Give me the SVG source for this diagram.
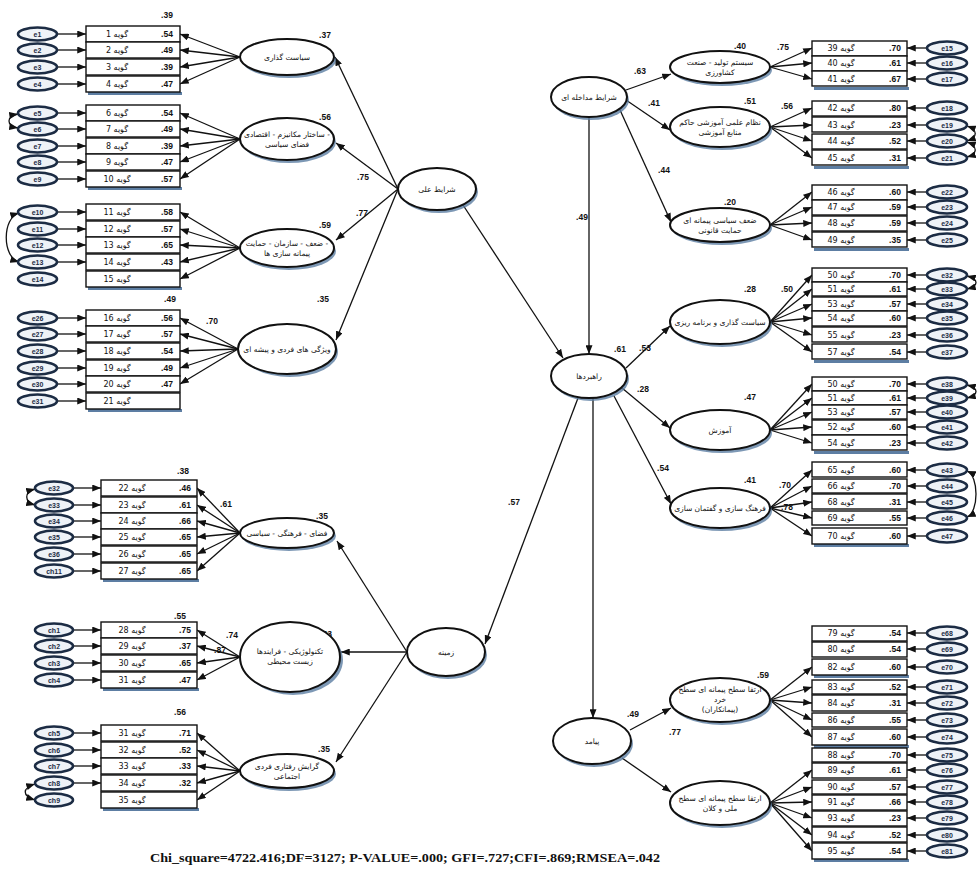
<svg xmlns="http://www.w3.org/2000/svg" width="977" height="889" viewBox="0 0 977 889">
<defs>
<marker id="a" viewBox="0 0 10 8" refX="10" refY="4" markerWidth="9" markerHeight="7" markerUnits="userSpaceOnUse" orient="auto-start-reverse"><path d="M0,0 L10,4 L0,8 z" fill="#111"/></marker>
<style>
.b{fill:#fff;stroke:#111;stroke-width:1.4}
.sh{fill:#5d7ea3}
.lt{fill:#fff;stroke:#111;stroke-width:2}
.ls{fill:#5d7ea3;opacity:.8}
.er{fill:#eef2f7;stroke:#1c2c44;stroke-width:2.6}
.tx{font-family:"DejaVu Sans","Noto Sans",sans-serif;font-size:7.5px;fill:#111;text-anchor:middle}
.it{font-family:"DejaVu Sans","Noto Sans",sans-serif;font-size:8px;fill:#111;text-anchor:middle}
.n{font-family:"Liberation Sans",Arial,sans-serif;font-size:8.5px;font-weight:bold;fill:#111;text-anchor:middle}
.et{font-family:"Liberation Sans",Arial,sans-serif;font-size:7px;font-weight:bold;fill:#1c2c44;text-anchor:middle}
#connectors line,#connectors path{stroke:#111;stroke-width:1.3;fill:none}
.ar{marker-end:url(#a)}
.cv{marker-start:url(#a);marker-end:url(#a)}
.cap{font-family:"Liberation Serif","Times New Roman",serif;font-size:13px;font-weight:bold;fill:#111}
</style>
</defs>
<rect width="977" height="889" fill="#fff"/>

<g id="connectors">
<line class="ar" x1="398" y1="189" x2="335" y2="57"/>
<line class="ar" x1="398" y1="189" x2="336" y2="143"/>
<line class="ar" x1="398" y1="189" x2="336" y2="240"/>
<line class="ar" x1="398" y1="189" x2="336" y2="340"/>
<line class="ar" x1="463" y1="205" x2="563" y2="358"/>
<line class="ar" x1="589" y1="117" x2="589" y2="354"/>
<line class="ar" x1="578" y1="398" x2="485" y2="644"/>
<line class="ar" x1="593" y1="398" x2="593" y2="718"/>
<line class="ar" x1="407" y1="652" x2="337" y2="541"/>
<line class="ar" x1="407" y1="652" x2="341" y2="652"/>
<line class="ar" x1="407" y1="652" x2="336" y2="762"/>
<line class="ar" x1="626" y1="90" x2="671" y2="74"/>
<line class="ar" x1="626" y1="100" x2="670" y2="130"/>
<line class="ar" x1="620" y1="110" x2="671" y2="222"/>
<line class="ar" x1="626" y1="368" x2="670" y2="326"/>
<line class="ar" x1="622" y1="388" x2="670" y2="428"/>
<line class="ar" x1="614" y1="396" x2="671" y2="504"/>
<line class="ar" x1="630" y1="730" x2="671" y2="708"/>
<line class="ar" x1="622" y1="758" x2="671" y2="792"/>
<line class="ar" x1="240" y1="57" x2="180" y2="34"/><line class="ar" x1="240" y1="57" x2="180" y2="50"/><line class="ar" x1="240" y1="57" x2="180" y2="67"/><line class="ar" x1="240" y1="57" x2="180" y2="84"/>
<line class="ar" x1="57" y1="34" x2="86" y2="34"/><line class="ar" x1="57" y1="50" x2="86" y2="50"/><line class="ar" x1="57" y1="67" x2="86" y2="67"/><line class="ar" x1="57" y1="84" x2="86" y2="84"/>
<line class="ar" x1="240" y1="139" x2="180" y2="113"/><line class="ar" x1="240" y1="139" x2="180" y2="129"/><line class="ar" x1="240" y1="139" x2="180" y2="146"/><line class="ar" x1="240" y1="139" x2="180" y2="162"/><line class="ar" x1="240" y1="139" x2="180" y2="179"/>
<line class="ar" x1="57" y1="113" x2="86" y2="113"/><line class="ar" x1="57" y1="129" x2="86" y2="129"/><line class="ar" x1="57" y1="146" x2="86" y2="146"/><line class="ar" x1="57" y1="162" x2="86" y2="162"/><line class="ar" x1="57" y1="179" x2="86" y2="179"/>
<path class="cv" d="M18,114 C6,116 6,126 18,128"/>
<line class="ar" x1="240" y1="248" x2="180" y2="212"/><line class="ar" x1="240" y1="248" x2="180" y2="229"/><line class="ar" x1="240" y1="248" x2="180" y2="245"/><line class="ar" x1="240" y1="248" x2="180" y2="262"/><line class="ar" x1="240" y1="248" x2="180" y2="279"/>
<line class="ar" x1="57" y1="212" x2="86" y2="212"/><line class="ar" x1="57" y1="229" x2="86" y2="229"/><line class="ar" x1="57" y1="245" x2="86" y2="245"/><line class="ar" x1="57" y1="262" x2="86" y2="262"/>
<path class="cv" d="M19,213 C2,218 2,257 19,262"/>
<line class="ar" x1="238" y1="349" x2="180" y2="318"/><line class="ar" x1="238" y1="349" x2="180" y2="334"/><line class="ar" x1="238" y1="349" x2="180" y2="351"/><line class="ar" x1="238" y1="349" x2="180" y2="368"/><line class="ar" x1="238" y1="349" x2="180" y2="384"/>
<line class="ar" x1="57" y1="318" x2="86" y2="318"/><line class="ar" x1="57" y1="334" x2="86" y2="334"/><line class="ar" x1="57" y1="351" x2="86" y2="351"/><line class="ar" x1="57" y1="368" x2="86" y2="368"/><line class="ar" x1="57" y1="384" x2="86" y2="384"/><line class="ar" x1="57" y1="401" x2="86" y2="401"/>
<line class="ar" x1="240" y1="533" x2="197" y2="488"/><line class="ar" x1="240" y1="533" x2="197" y2="505"/><line class="ar" x1="240" y1="533" x2="197" y2="521"/><line class="ar" x1="240" y1="533" x2="197" y2="537"/><line class="ar" x1="240" y1="533" x2="197" y2="554"/><line class="ar" x1="240" y1="533" x2="197" y2="571"/>
<line class="ar" x1="73" y1="488" x2="101" y2="488"/><line class="ar" x1="73" y1="505" x2="101" y2="505"/><line class="ar" x1="73" y1="521" x2="101" y2="521"/><line class="ar" x1="73" y1="537" x2="101" y2="537"/><line class="ar" x1="73" y1="554" x2="101" y2="554"/><line class="ar" x1="73" y1="571" x2="101" y2="571"/>
<path class="cv" d="M35,489 C24,492 24,502 35,505"/>
<line class="ar" x1="240" y1="657" x2="197" y2="630"/><line class="ar" x1="240" y1="657" x2="197" y2="646"/><line class="ar" x1="240" y1="657" x2="197" y2="663"/><line class="ar" x1="240" y1="657" x2="197" y2="680"/>
<line class="ar" x1="73" y1="630" x2="101" y2="630"/><line class="ar" x1="73" y1="646" x2="101" y2="646"/><line class="ar" x1="73" y1="663" x2="101" y2="663"/><line class="ar" x1="73" y1="680" x2="101" y2="680"/>
<line class="ar" x1="240" y1="771" x2="197" y2="733"/><line class="ar" x1="240" y1="771" x2="197" y2="750"/><line class="ar" x1="240" y1="771" x2="197" y2="766"/><line class="ar" x1="240" y1="771" x2="197" y2="783"/><line class="ar" x1="240" y1="771" x2="197" y2="800"/>
<line class="ar" x1="73" y1="733" x2="101" y2="733"/><line class="ar" x1="73" y1="750" x2="101" y2="750"/><line class="ar" x1="73" y1="766" x2="101" y2="766"/><line class="ar" x1="73" y1="783" x2="101" y2="783"/>
<path class="cv" d="M35,784 C22,788 22,796 35,800"/>
<line class="ar" x1="770" y1="67" x2="812" y2="48"/><line class="ar" x1="770" y1="67" x2="812" y2="63"/><line class="ar" x1="770" y1="67" x2="812" y2="79"/>
<line class="ar" x1="927" y1="48" x2="907" y2="48"/><line class="ar" x1="927" y1="63" x2="907" y2="63"/><line class="ar" x1="927" y1="79" x2="907" y2="79"/>
<line class="ar" x1="770" y1="127" x2="812" y2="108"/><line class="ar" x1="770" y1="127" x2="812" y2="125"/><line class="ar" x1="770" y1="127" x2="812" y2="141"/><line class="ar" x1="770" y1="127" x2="812" y2="158"/>
<line class="ar" x1="927" y1="108" x2="907" y2="108"/><line class="ar" x1="927" y1="125" x2="907" y2="125"/><line class="ar" x1="927" y1="141" x2="907" y2="141"/><line class="ar" x1="927" y1="158" x2="907" y2="158"/>
<path class="cv" d="M967,126 C978,130 978,137 967,141"/>
<path class="cv" d="M967,142 C978,146 978,154 967,157"/>
<line class="ar" x1="770" y1="225" x2="812" y2="192"/><line class="ar" x1="770" y1="225" x2="812" y2="207"/><line class="ar" x1="770" y1="225" x2="812" y2="223"/><line class="ar" x1="770" y1="225" x2="812" y2="240"/>
<line class="ar" x1="927" y1="192" x2="907" y2="192"/><line class="ar" x1="927" y1="207" x2="907" y2="207"/><line class="ar" x1="927" y1="223" x2="907" y2="223"/><line class="ar" x1="927" y1="240" x2="907" y2="240"/>
<line class="ar" x1="770" y1="322" x2="812" y2="275"/><line class="ar" x1="770" y1="322" x2="812" y2="289"/><line class="ar" x1="770" y1="322" x2="812" y2="304"/><line class="ar" x1="770" y1="322" x2="812" y2="318"/><line class="ar" x1="770" y1="322" x2="812" y2="335"/><line class="ar" x1="770" y1="322" x2="812" y2="352"/>
<line class="ar" x1="927" y1="275" x2="907" y2="275"/><line class="ar" x1="927" y1="289" x2="907" y2="289"/><line class="ar" x1="927" y1="304" x2="907" y2="304"/><line class="ar" x1="927" y1="318" x2="907" y2="318"/><line class="ar" x1="927" y1="335" x2="907" y2="335"/><line class="ar" x1="927" y1="352" x2="907" y2="352"/>
<path class="cv" d="M967,276 C979,279 979,286 967,289"/>
<line class="ar" x1="770" y1="430" x2="812" y2="384"/><line class="ar" x1="770" y1="430" x2="812" y2="398"/><line class="ar" x1="770" y1="430" x2="812" y2="412"/><line class="ar" x1="770" y1="430" x2="812" y2="427"/><line class="ar" x1="770" y1="430" x2="812" y2="443"/>
<line class="ar" x1="927" y1="384" x2="907" y2="384"/><line class="ar" x1="927" y1="398" x2="907" y2="398"/><line class="ar" x1="927" y1="412" x2="907" y2="412"/><line class="ar" x1="927" y1="427" x2="907" y2="427"/><line class="ar" x1="927" y1="443" x2="907" y2="443"/>
<path class="cv" d="M967,385 C979,388 979,395 967,398"/>
<line class="ar" x1="770" y1="508" x2="812" y2="470"/><line class="ar" x1="770" y1="508" x2="812" y2="486"/><line class="ar" x1="770" y1="508" x2="812" y2="502"/><line class="ar" x1="770" y1="508" x2="812" y2="518"/><line class="ar" x1="770" y1="508" x2="812" y2="536"/>
<line class="ar" x1="927" y1="470" x2="907" y2="470"/><line class="ar" x1="927" y1="486" x2="907" y2="486"/><line class="ar" x1="927" y1="502" x2="907" y2="502"/><line class="ar" x1="927" y1="518" x2="907" y2="518"/><line class="ar" x1="927" y1="536" x2="907" y2="536"/>
<path class="cv" d="M967,471 C979,476 979,512 967,517"/>
<line class="ar" x1="770" y1="700" x2="812" y2="667"/><line class="ar" x1="770" y1="700" x2="812" y2="687"/><line class="ar" x1="770" y1="700" x2="812" y2="703"/><line class="ar" x1="770" y1="700" x2="812" y2="720"/><line class="ar" x1="770" y1="700" x2="812" y2="737"/>
<line class="ar" x1="927" y1="633" x2="907" y2="633"/><line class="ar" x1="927" y1="649" x2="907" y2="649"/><line class="ar" x1="927" y1="667" x2="907" y2="667"/><line class="ar" x1="927" y1="687" x2="907" y2="687"/><line class="ar" x1="927" y1="703" x2="907" y2="703"/><line class="ar" x1="927" y1="720" x2="907" y2="720"/><line class="ar" x1="927" y1="737" x2="907" y2="737"/>
<line class="ar" x1="770" y1="803" x2="812" y2="770"/><line class="ar" x1="770" y1="803" x2="812" y2="787"/><line class="ar" x1="770" y1="803" x2="812" y2="802"/><line class="ar" x1="770" y1="803" x2="812" y2="818"/><line class="ar" x1="770" y1="803" x2="812" y2="835"/><line class="ar" x1="770" y1="803" x2="812" y2="851"/>
<line class="ar" x1="927" y1="755" x2="907" y2="755"/><line class="ar" x1="927" y1="770" x2="907" y2="770"/><line class="ar" x1="927" y1="787" x2="907" y2="787"/><line class="ar" x1="927" y1="802" x2="907" y2="802"/><line class="ar" x1="927" y1="818" x2="907" y2="818"/><line class="ar" x1="927" y1="835" x2="907" y2="835"/><line class="ar" x1="927" y1="851" x2="907" y2="851"/>
</g>

<g id="labels" class="n">
<text x="325" y="38">.37</text><text x="325" y="120">.56</text><text x="325" y="228">.59</text><text x="323" y="302">.35</text>
<text x="363" y="180">.75</text><text x="362" y="216">.77</text>
<text x="167" y="18">.39</text><text x="170" y="302">.49</text><text x="183" y="474">.38</text><text x="180" y="619">.55</text><text x="180" y="715">.56</text>
<text x="212" y="324">.70</text><text x="226" y="507">.61</text><text x="232" y="638">.74</text><text x="220" y="653">.87</text>
<text x="322" y="519">.35</text><text x="326" y="637">.43</text><text x="324" y="752">.35</text>
<text x="640" y="74">.63</text><text x="654" y="106">.41</text><text x="664" y="173">.44</text>
<text x="582" y="220">.49</text><text x="620" y="352">.61</text><text x="645" y="351">.53</text><text x="643" y="392">.28</text><text x="663" y="471">.54</text>
<text x="514" y="505">.57</text><text x="633" y="717">.49</text><text x="675" y="735">.77</text>
<text x="740" y="49">.40</text><text x="783" y="50">.75</text><text x="750" y="104">.51</text><text x="787" y="109">.56</text><text x="730" y="205">.20</text>
<text x="750" y="292">.28</text><text x="787" y="292">.50</text><text x="750" y="400">.47</text><text x="750" y="483">.41</text><text x="785" y="488">.70</text><text x="787" y="510">.78</text>
<text x="763" y="678">.59</text>
</g>

<g id="c_ali"><ellipse class="ls" cx="439" cy="192" rx="39" ry="21"/><ellipse class="lt" cx="437" cy="189" rx="39" ry="21"/><text class="tx" x="437" y="192">شرایط علی</text></g>
<g id="c_modakhele"><ellipse class="ls" cx="591" cy="100" rx="38" ry="20"/><ellipse class="lt" cx="589" cy="97" rx="38" ry="20"/><text class="tx" x="589" y="100">شرایط مداخله ای</text></g>
<g id="c_rahbord"><ellipse class="ls" cx="591" cy="379" rx="38" ry="22"/><ellipse class="lt" cx="589" cy="376" rx="38" ry="22"/><text class="tx" x="589" y="379">راهبردها</text></g>
<g id="c_zamine"><ellipse class="ls" cx="448" cy="655" rx="39" ry="24"/><ellipse class="lt" cx="446" cy="652" rx="39" ry="24"/><text class="tx" x="446" y="655">زمینه</text></g>
<g id="c_payamad"><ellipse class="ls" cx="594" cy="744" rx="39" ry="23"/><ellipse class="lt" cx="592" cy="741" rx="39" ry="23"/><text class="tx" x="592" y="744">پیامد</text></g>

<g id="L1"><ellipse class="ls" cx="289" cy="60" rx="47" ry="18"/><ellipse class="lt" cx="287" cy="57" rx="47" ry="18"/><text class="tx" x="287" y="60">سیاست گذاری</text></g>
<g id="L2"><ellipse class="ls" cx="289" cy="142" rx="47" ry="21"/><ellipse class="lt" cx="287" cy="139" rx="47" ry="21"/><text class="tx" x="287" y="137">ساختار مکانیزم - اقتصادی -</text><text class="tx" x="287" y="147">فضای سیاسی</text></g>
<g id="L3"><ellipse class="ls" cx="289" cy="251" rx="47" ry="19"/><ellipse class="lt" cx="287" cy="248" rx="47" ry="19"/><text class="tx" x="287" y="246">ضعف - سازمان - حمایت -</text><text class="tx" x="287" y="256">پیمانه سازی ها</text></g>
<g id="L4"><ellipse class="ls" cx="290" cy="352" rx="48" ry="25"/><ellipse class="lt" cx="287" cy="349" rx="49" ry="25"/><text class="tx" x="287" y="352">ویژگی های فردی و پیشه ای</text></g>
<g id="L5"><ellipse class="ls" cx="289" cy="536" rx="47" ry="15"/><ellipse class="lt" cx="287" cy="533" rx="47" ry="15"/><text class="tx" x="287" y="536">فضای - فرهنگی - سیاسی</text></g>
<g id="L6"><ellipse class="ls" cx="293" cy="660" rx="50" ry="35"/><ellipse class="lt" cx="290" cy="657" rx="50" ry="35"/><text class="tx" x="290" y="654">تکنولوژیکی - فرایندها</text><text class="tx" x="290" y="664">زیست محیطی</text></g>
<g id="L7"><ellipse class="ls" cx="289" cy="774" rx="47" ry="17"/><ellipse class="lt" cx="287" cy="771" rx="47" ry="17"/><text class="tx" x="287" y="769">گرایش رفتاری فردی</text><text class="tx" x="287" y="779">اجتماعی</text></g>

<g id="R1"><ellipse class="ls" cx="722" cy="70" rx="50" ry="16"/><ellipse class="lt" cx="720" cy="67" rx="50" ry="16"/><text class="tx" x="720" y="65">سیستم تولید - صنعت</text><text class="tx" x="720" y="75">کشاورزی</text></g>
<g id="R2"><ellipse class="ls" cx="722" cy="130" rx="50" ry="20"/><ellipse class="lt" cx="720" cy="127" rx="50" ry="20"/><text class="tx" x="720" y="125">نظام علمی آموزشی حاکم</text><text class="tx" x="720" y="135">منابع آموزشی</text></g>
<g id="R3"><ellipse class="ls" cx="722" cy="228" rx="50" ry="17"/><ellipse class="lt" cx="720" cy="225" rx="50" ry="17"/><text class="tx" x="720" y="223">ضعف سیاسی پیمانه ای</text><text class="tx" x="720" y="233">حمایت قانونی</text></g>
<g id="R4"><ellipse class="ls" cx="722" cy="325" rx="50" ry="22"/><ellipse class="lt" cx="720" cy="322" rx="50" ry="22"/><text class="tx" x="720" y="325">سیاست گذاری و برنامه ریزی</text></g>
<g id="R5"><ellipse class="ls" cx="722" cy="433" rx="50" ry="20"/><ellipse class="lt" cx="720" cy="430" rx="50" ry="20"/><text class="tx" x="720" y="433">آموزش</text></g>
<g id="R6"><ellipse class="ls" cx="722" cy="511" rx="50" ry="20"/><ellipse class="lt" cx="720" cy="508" rx="50" ry="20"/><text class="tx" x="720" y="511">فرهنگ سازی و گفتمان سازی</text></g>
<g id="R7"><ellipse class="ls" cx="722" cy="703" rx="50" ry="22"/><ellipse class="lt" cx="720" cy="700" rx="50" ry="22"/><text class="tx" x="720" y="692">ارتقا سطح پیمانه ای سطح</text><text class="tx" x="720" y="702">خرد</text><text class="tx" x="720" y="712">(پیمانکاران)</text></g>
<g id="R8"><ellipse class="ls" cx="722" cy="806" rx="50" ry="22"/><ellipse class="lt" cx="720" cy="803" rx="50" ry="22"/><text class="tx" x="720" y="801">ارتقا سطح پیمانه ای سطح</text><text class="tx" x="720" y="811">ملی و کلان</text></g>

<g id="stack-shadows">
<rect class="sh" x="88" y="92" width="94" height="3"/><rect class="sh" x="88" y="187" width="94" height="3"/><rect class="sh" x="88" y="287" width="94" height="3"/><rect class="sh" x="88" y="409" width="94" height="3"/>
<rect class="sh" x="103" y="579" width="96" height="3"/><rect class="sh" x="103" y="688" width="96" height="3"/><rect class="sh" x="103" y="808" width="96" height="3"/>
<rect class="sh" x="814" y="87" width="95" height="3"/><rect class="sh" x="814" y="166" width="95" height="3"/><rect class="sh" x="814" y="248" width="95" height="3"/><rect class="sh" x="814" y="360" width="95" height="3"/><rect class="sh" x="814" y="451" width="95" height="3"/><rect class="sh" x="814" y="544" width="95" height="3"/><rect class="sh" x="814" y="675" width="95" height="3"/><rect class="sh" x="814" y="745" width="95" height="3"/><rect class="sh" x="814" y="859" width="95" height="3"/>
</g>

<g id="b1"><rect class="b" x="86" y="26" width="94" height="16"/><text class="it" x="117" y="37">گویه 1</text><text class="n" x="167" y="37">.54</text></g>
<g id="b2"><rect class="b" x="86" y="42" width="94" height="16"/><text class="it" x="117" y="53">گویه 2</text><text class="n" x="167" y="53">.49</text></g>
<g id="b3"><rect class="b" x="86" y="59" width="94" height="16"/><text class="it" x="117" y="70">گویه 3</text><text class="n" x="167" y="70">.39</text></g>
<g id="b4"><rect class="b" x="86" y="76" width="94" height="16"/><text class="it" x="117" y="87">گویه 4</text><text class="n" x="167" y="87">.47</text></g>
<g id="b6"><rect class="b" x="86" y="105" width="94" height="16"/><text class="it" x="117" y="116">گویه 6</text><text class="n" x="167" y="116">.54</text></g>
<g id="b7"><rect class="b" x="86" y="121" width="94" height="16"/><text class="it" x="117" y="132">گویه 7</text><text class="n" x="167" y="132">.49</text></g>
<g id="b8"><rect class="b" x="86" y="138" width="94" height="16"/><text class="it" x="117" y="149">گویه 8</text><text class="n" x="167" y="149">.39</text></g>
<g id="b9"><rect class="b" x="86" y="154" width="94" height="16"/><text class="it" x="117" y="165">گویه 9</text><text class="n" x="167" y="165">.47</text></g>
<g id="b10"><rect class="b" x="86" y="171" width="94" height="16"/><text class="it" x="117" y="182">گویه 10</text><text class="n" x="167" y="182">.57</text></g>
<g id="b11"><rect class="b" x="86" y="204" width="94" height="16"/><text class="it" x="117" y="215">گویه 11</text><text class="n" x="167" y="215">.58</text></g>
<g id="b12"><rect class="b" x="86" y="221" width="94" height="16"/><text class="it" x="117" y="232">گویه 12</text><text class="n" x="167" y="232">.57</text></g>
<g id="b13"><rect class="b" x="86" y="237" width="94" height="16"/><text class="it" x="117" y="248">گویه 13</text><text class="n" x="167" y="248">.65</text></g>
<g id="b14"><rect class="b" x="86" y="254" width="94" height="16"/><text class="it" x="117" y="265">گویه 14</text><text class="n" x="167" y="265">.43</text></g>
<g id="b15"><rect class="b" x="86" y="271" width="94" height="16"/><text class="it" x="117" y="282">گویه 15</text></g>
<g id="b16"><rect class="b" x="86" y="310" width="94" height="16"/><text class="it" x="117" y="321">گویه 16</text><text class="n" x="167" y="321">.56</text></g>
<g id="b17"><rect class="b" x="86" y="326" width="94" height="16"/><text class="it" x="117" y="337">گویه 17</text><text class="n" x="167" y="337">.57</text></g>
<g id="b18"><rect class="b" x="86" y="343" width="94" height="16"/><text class="it" x="117" y="354">گویه 18</text><text class="n" x="167" y="354">.54</text></g>
<g id="b19"><rect class="b" x="86" y="360" width="94" height="16"/><text class="it" x="117" y="371">گویه 19</text><text class="n" x="167" y="371">.49</text></g>
<g id="b20"><rect class="b" x="86" y="376" width="94" height="16"/><text class="it" x="117" y="387">گویه 20</text><text class="n" x="167" y="387">.47</text></g>
<g id="b21"><rect class="b" x="86" y="393" width="94" height="16"/><text class="it" x="117" y="404">گویه 21</text></g>

<g id="b22"><rect class="b" x="101" y="480" width="96" height="16"/><text class="it" x="132" y="491">گویه 22</text><text class="n" x="185" y="491">.46</text></g>
<g id="b23"><rect class="b" x="101" y="497" width="96" height="16"/><text class="it" x="132" y="508">گویه 23</text><text class="n" x="185" y="508">.61</text></g>
<g id="b24"><rect class="b" x="101" y="513" width="96" height="16"/><text class="it" x="132" y="524">گویه 24</text><text class="n" x="185" y="524">.66</text></g>
<g id="b25"><rect class="b" x="101" y="529" width="96" height="16"/><text class="it" x="132" y="540">گویه 25</text><text class="n" x="185" y="540">.65</text></g>
<g id="b26"><rect class="b" x="101" y="546" width="96" height="16"/><text class="it" x="132" y="557">گویه 26</text><text class="n" x="185" y="557">.65</text></g>
<g id="b27"><rect class="b" x="101" y="563" width="96" height="16"/><text class="it" x="132" y="574">گویه 27</text><text class="n" x="185" y="574">.65</text></g>
<g id="b28"><rect class="b" x="101" y="622" width="96" height="16"/><text class="it" x="132" y="633">گویه 28</text><text class="n" x="185" y="633">.75</text></g>
<g id="b29"><rect class="b" x="101" y="638" width="96" height="16"/><text class="it" x="132" y="649">گویه 29</text><text class="n" x="185" y="649">.37</text></g>
<g id="b30"><rect class="b" x="101" y="655" width="96" height="16"/><text class="it" x="132" y="666">گویه 30</text><text class="n" x="185" y="666">.65</text></g>
<g id="b31a"><rect class="b" x="101" y="672" width="96" height="16"/><text class="it" x="132" y="683">گویه 31</text><text class="n" x="185" y="683">.47</text></g>
<g id="b31b"><rect class="b" x="101" y="725" width="96" height="16"/><text class="it" x="132" y="736">گویه 31</text><text class="n" x="185" y="736">.71</text></g>
<g id="b32"><rect class="b" x="101" y="742" width="96" height="16"/><text class="it" x="132" y="753">گویه 32</text><text class="n" x="185" y="753">.52</text></g>
<g id="b33"><rect class="b" x="101" y="758" width="96" height="16"/><text class="it" x="132" y="769">گویه 33</text><text class="n" x="185" y="769">.33</text></g>
<g id="b34"><rect class="b" x="101" y="775" width="96" height="16"/><text class="it" x="132" y="786">گویه 34</text><text class="n" x="185" y="786">.32</text></g>
<g id="b35"><rect class="b" x="101" y="792" width="96" height="16"/><text class="it" x="132" y="803">گویه 35</text></g>

<g id="b39"><rect class="b" x="812" y="41" width="95" height="15"/><text class="it" x="841" y="51">گویه 39</text><text class="n" x="895" y="51">.70</text></g>
<g id="b40"><rect class="b" x="812" y="56" width="95" height="15"/><text class="it" x="841" y="66">گویه 40</text><text class="n" x="895" y="66">.61</text></g>
<g id="b41"><rect class="b" x="812" y="71" width="95" height="15"/><text class="it" x="841" y="82">گویه 41</text><text class="n" x="895" y="82">.67</text></g>
<g id="b42"><rect class="b" x="812" y="101" width="95" height="15"/><text class="it" x="841" y="111">گویه 42</text><text class="n" x="895" y="111">.80</text></g>
<g id="b43"><rect class="b" x="812" y="117" width="95" height="15"/><text class="it" x="841" y="128">گویه 43</text><text class="n" x="895" y="128">.23</text></g>
<g id="b44"><rect class="b" x="812" y="134" width="95" height="15"/><text class="it" x="841" y="144">گویه 44</text><text class="n" x="895" y="144">.52</text></g>
<g id="b45"><rect class="b" x="812" y="150" width="95" height="15"/><text class="it" x="841" y="161">گویه 45</text><text class="n" x="895" y="161">.31</text></g>
<g id="b46"><rect class="b" x="812" y="185" width="95" height="15"/><text class="it" x="841" y="195">گویه 46</text><text class="n" x="895" y="195">.60</text></g>
<g id="b47"><rect class="b" x="812" y="200" width="95" height="15"/><text class="it" x="841" y="210">گویه 47</text><text class="n" x="895" y="210">.59</text></g>
<g id="b48"><rect class="b" x="812" y="216" width="95" height="15"/><text class="it" x="841" y="226">گویه 48</text><text class="n" x="895" y="226">.59</text></g>
<g id="b49"><rect class="b" x="812" y="232" width="95" height="15"/><text class="it" x="841" y="243">گویه 49</text><text class="n" x="895" y="243">.35</text></g>
<g id="b50a"><rect class="b" x="812" y="268" width="95" height="14"/><text class="it" x="841" y="278">گویه 50</text><text class="n" x="895" y="278">.70</text></g>
<g id="b51a"><rect class="b" x="812" y="282" width="95" height="14"/><text class="it" x="841" y="292">گویه 51</text><text class="n" x="895" y="292">.61</text></g>
<g id="b53a"><rect class="b" x="812" y="297" width="95" height="14"/><text class="it" x="841" y="307">گویه 53</text><text class="n" x="895" y="307">.57</text></g>
<g id="b54a"><rect class="b" x="812" y="311" width="95" height="15"/><text class="it" x="841" y="321">گویه 54</text><text class="n" x="895" y="321">.60</text></g>
<g id="b55"><rect class="b" x="812" y="327" width="95" height="15"/><text class="it" x="841" y="338">گویه 55</text><text class="n" x="895" y="338">.23</text></g>
<g id="b57"><rect class="b" x="812" y="344" width="95" height="15"/><text class="it" x="841" y="355">گویه 57</text><text class="n" x="895" y="355">.54</text></g>
<g id="b50b"><rect class="b" x="812" y="377" width="95" height="14"/><text class="it" x="841" y="387">گویه 50</text><text class="n" x="895" y="387">.70</text></g>
<g id="b51b"><rect class="b" x="812" y="391" width="95" height="14"/><text class="it" x="841" y="401">گویه 51</text><text class="n" x="895" y="401">.61</text></g>
<g id="b53b"><rect class="b" x="812" y="405" width="95" height="14"/><text class="it" x="841" y="415">گویه 53</text><text class="n" x="895" y="415">.57</text></g>
<g id="b52"><rect class="b" x="812" y="420" width="95" height="15"/><text class="it" x="841" y="430">گویه 52</text><text class="n" x="895" y="430">.60</text></g>
<g id="b54b"><rect class="b" x="812" y="435" width="95" height="15"/><text class="it" x="841" y="446">گویه 54</text><text class="n" x="895" y="446">.23</text></g>
<g id="b65"><rect class="b" x="812" y="462" width="95" height="15"/><text class="it" x="841" y="473">گویه 65</text><text class="n" x="895" y="473">.60</text></g>
<g id="b66"><rect class="b" x="812" y="479" width="95" height="14"/><text class="it" x="841" y="489">گویه 66</text><text class="n" x="895" y="489">.70</text></g>
<g id="b68"><rect class="b" x="812" y="494" width="95" height="15"/><text class="it" x="841" y="505">گویه 68</text><text class="n" x="895" y="505">.31</text></g>
<g id="b69"><rect class="b" x="812" y="511" width="95" height="14"/><text class="it" x="841" y="521">گویه 69</text><text class="n" x="895" y="521">.55</text></g>
<g id="b70"><rect class="b" x="812" y="528" width="95" height="16"/><text class="it" x="841" y="539">گویه 70</text><text class="n" x="895" y="539">.60</text></g>
<g id="b79"><rect class="b" x="812" y="626" width="95" height="15"/><text class="it" x="841" y="636">گویه 79</text><text class="n" x="895" y="636">.54</text></g>
<g id="b80"><rect class="b" x="812" y="642" width="95" height="15"/><text class="it" x="841" y="652">گویه 80</text><text class="n" x="895" y="652">.54</text></g>
<g id="b82"><rect class="b" x="812" y="659" width="95" height="16"/><text class="it" x="841" y="670">گویه 82</text><text class="n" x="895" y="670">.60</text></g>
<g id="b83"><rect class="b" x="812" y="680" width="95" height="14"/><text class="it" x="841" y="690">گویه 83</text><text class="n" x="895" y="690">.52</text></g>
<g id="b84"><rect class="b" x="812" y="695" width="95" height="16"/><text class="it" x="841" y="706">گویه 84</text><text class="n" x="895" y="706">.31</text></g>
<g id="b86"><rect class="b" x="812" y="713" width="95" height="14"/><text class="it" x="841" y="723">گویه 86</text><text class="n" x="895" y="723">.55</text></g>
<g id="b87"><rect class="b" x="812" y="729" width="95" height="16"/><text class="it" x="841" y="740">گویه 87</text><text class="n" x="895" y="740">.60</text></g>
<g id="b88"><rect class="b" x="812" y="748" width="95" height="14"/><text class="it" x="841" y="758">گویه 88</text><text class="n" x="895" y="758">.70</text></g>
<g id="b89"><rect class="b" x="812" y="763" width="95" height="15"/><text class="it" x="841" y="773">گویه 89</text><text class="n" x="895" y="773">.61</text></g>
<g id="b90"><rect class="b" x="812" y="780" width="95" height="14"/><text class="it" x="841" y="790">گویه 90</text><text class="n" x="895" y="790">.57</text></g>
<g id="b91"><rect class="b" x="812" y="795" width="95" height="15"/><text class="it" x="841" y="805">گویه 91</text><text class="n" x="895" y="805">.66</text></g>
<g id="b93"><rect class="b" x="812" y="811" width="95" height="15"/><text class="it" x="841" y="821">گویه 93</text><text class="n" x="895" y="821">.23</text></g>
<g id="b94"><rect class="b" x="812" y="827" width="95" height="15"/><text class="it" x="841" y="838">گویه 94</text><text class="n" x="895" y="838">.52</text></g>
<g id="b95"><rect class="b" x="812" y="843" width="95" height="16"/><text class="it" x="841" y="854">گویه 95</text><text class="n" x="895" y="854">.54</text></g>

<g id="e1"><ellipse class="er" cx="37.5" cy="34" rx="19.5" ry="6.5"/><text class="et" x="37.5" y="36.5">e1</text></g>
<g id="e2"><ellipse class="er" cx="37.5" cy="50" rx="19.5" ry="6.5"/><text class="et" x="37.5" y="52.5">e2</text></g>
<g id="e3"><ellipse class="er" cx="37.5" cy="67" rx="19.5" ry="6.5"/><text class="et" x="37.5" y="69.5">e3</text></g>
<g id="e4"><ellipse class="er" cx="37.5" cy="84" rx="19.5" ry="6.5"/><text class="et" x="37.5" y="86.5">e4</text></g>
<g id="e5"><ellipse class="er" cx="37.5" cy="113" rx="19.5" ry="6.5"/><text class="et" x="37.5" y="115.5">e5</text></g>
<g id="e6"><ellipse class="er" cx="37.5" cy="129" rx="19.5" ry="6.5"/><text class="et" x="37.5" y="131.5">e6</text></g>
<g id="e7"><ellipse class="er" cx="37.5" cy="146" rx="19.5" ry="6.5"/><text class="et" x="37.5" y="148.5">e7</text></g>
<g id="e8"><ellipse class="er" cx="37.5" cy="162" rx="19.5" ry="6.5"/><text class="et" x="37.5" y="164.5">e8</text></g>
<g id="e9"><ellipse class="er" cx="37.5" cy="179" rx="19.5" ry="6.5"/><text class="et" x="37.5" y="181.5">e9</text></g>
<g id="e10"><ellipse class="er" cx="37.5" cy="212" rx="19.5" ry="6.5"/><text class="et" x="37.5" y="214.5">e10</text></g>
<g id="e11"><ellipse class="er" cx="37.5" cy="229" rx="19.5" ry="6.5"/><text class="et" x="37.5" y="231.5">e11</text></g>
<g id="e12"><ellipse class="er" cx="37.5" cy="245" rx="19.5" ry="6.5"/><text class="et" x="37.5" y="247.5">e12</text></g>
<g id="e13"><ellipse class="er" cx="37.5" cy="262" rx="19.5" ry="6.5"/><text class="et" x="37.5" y="264.5">e13</text></g>
<g id="e14"><ellipse class="er" cx="37.5" cy="279" rx="19.5" ry="6.5"/><text class="et" x="37.5" y="281.5">e14</text></g>
<g id="e26"><ellipse class="er" cx="37.5" cy="318" rx="19.5" ry="6.5"/><text class="et" x="37.5" y="320.5">e26</text></g>
<g id="e27"><ellipse class="er" cx="37.5" cy="334" rx="19.5" ry="6.5"/><text class="et" x="37.5" y="336.5">e27</text></g>
<g id="e28"><ellipse class="er" cx="37.5" cy="351" rx="19.5" ry="6.5"/><text class="et" x="37.5" y="353.5">e28</text></g>
<g id="e29"><ellipse class="er" cx="37.5" cy="368" rx="19.5" ry="6.5"/><text class="et" x="37.5" y="370.5">e29</text></g>
<g id="e30"><ellipse class="er" cx="37.5" cy="384" rx="19.5" ry="6.5"/><text class="et" x="37.5" y="386.5">e30</text></g>
<g id="e31"><ellipse class="er" cx="37.5" cy="401" rx="19.5" ry="6.5"/><text class="et" x="37.5" y="403.5">e31</text></g>
<g id="e32"><ellipse class="er" cx="54" cy="488" rx="19" ry="6.5"/><text class="et" x="54" y="490.5">e32</text></g>
<g id="e33"><ellipse class="er" cx="54" cy="505" rx="19" ry="6.5"/><text class="et" x="54" y="507.5">e33</text></g>
<g id="e34"><ellipse class="er" cx="54" cy="521" rx="19" ry="6.5"/><text class="et" x="54" y="523.5">e34</text></g>
<g id="e35"><ellipse class="er" cx="54" cy="537" rx="19" ry="6.5"/><text class="et" x="54" y="539.5">e35</text></g>
<g id="e36"><ellipse class="er" cx="54" cy="554" rx="19" ry="6.5"/><text class="et" x="54" y="556.5">e36</text></g>
<g id="ch11"><ellipse class="er" cx="54" cy="571" rx="19" ry="6.5"/><text class="et" x="54" y="573.5">ch11</text></g>
<g id="ch1"><ellipse class="er" cx="54" cy="630" rx="19" ry="6.5"/><text class="et" x="54" y="632.5">ch1</text></g>
<g id="ch2"><ellipse class="er" cx="54" cy="646" rx="19" ry="6.5"/><text class="et" x="54" y="648.5">ch2</text></g>
<g id="ch3"><ellipse class="er" cx="54" cy="663" rx="19" ry="6.5"/><text class="et" x="54" y="665.5">ch3</text></g>
<g id="ch4"><ellipse class="er" cx="54" cy="680" rx="19" ry="6.5"/><text class="et" x="54" y="682.5">ch4</text></g>
<g id="ch5"><ellipse class="er" cx="54" cy="733" rx="19" ry="6.5"/><text class="et" x="54" y="735.5">ch5</text></g>
<g id="ch6"><ellipse class="er" cx="54" cy="750" rx="19" ry="6.5"/><text class="et" x="54" y="752.5">ch6</text></g>
<g id="ch7"><ellipse class="er" cx="54" cy="766" rx="19" ry="6.5"/><text class="et" x="54" y="768.5">ch7</text></g>
<g id="ch8"><ellipse class="er" cx="54" cy="783" rx="19" ry="6.5"/><text class="et" x="54" y="785.5">ch8</text></g>
<g id="ch9"><ellipse class="er" cx="54" cy="800" rx="19" ry="6.5"/><text class="et" x="54" y="802.5">ch9</text></g>

<g id="e15"><ellipse class="er" cx="947" cy="48" rx="20" ry="6.5"/><text class="et" x="947" y="50.5">e15</text></g>
<g id="e16"><ellipse class="er" cx="947" cy="63" rx="20" ry="6.5"/><text class="et" x="947" y="65.5">e16</text></g>
<g id="e17"><ellipse class="er" cx="947" cy="79" rx="20" ry="6.5"/><text class="et" x="947" y="81.5">e17</text></g>
<g id="e18"><ellipse class="er" cx="947" cy="108" rx="20" ry="6.5"/><text class="et" x="947" y="110.5">e18</text></g>
<g id="e19"><ellipse class="er" cx="947" cy="125" rx="20" ry="6.5"/><text class="et" x="947" y="127.5">e19</text></g>
<g id="e20"><ellipse class="er" cx="947" cy="141" rx="20" ry="6.5"/><text class="et" x="947" y="143.5">e20</text></g>
<g id="e21"><ellipse class="er" cx="947" cy="158" rx="20" ry="6.5"/><text class="et" x="947" y="160.5">e21</text></g>
<g id="e22"><ellipse class="er" cx="947" cy="192" rx="20" ry="6.5"/><text class="et" x="947" y="194.5">e22</text></g>
<g id="e23"><ellipse class="er" cx="947" cy="207" rx="20" ry="6.5"/><text class="et" x="947" y="209.5">e23</text></g>
<g id="e24"><ellipse class="er" cx="947" cy="223" rx="20" ry="6.5"/><text class="et" x="947" y="225.5">e24</text></g>
<g id="e25"><ellipse class="er" cx="947" cy="240" rx="20" ry="6.5"/><text class="et" x="947" y="242.5">e25</text></g>
<g id="re32"><ellipse class="er" cx="947" cy="275" rx="20" ry="6.5"/><text class="et" x="947" y="277.5">e32</text></g>
<g id="re33"><ellipse class="er" cx="947" cy="289" rx="20" ry="6.5"/><text class="et" x="947" y="291.5">e33</text></g>
<g id="re34"><ellipse class="er" cx="947" cy="304" rx="20" ry="6.5"/><text class="et" x="947" y="306.5">e34</text></g>
<g id="re35"><ellipse class="er" cx="947" cy="318" rx="20" ry="6.5"/><text class="et" x="947" y="320.5">e35</text></g>
<g id="re36"><ellipse class="er" cx="947" cy="335" rx="20" ry="6.5"/><text class="et" x="947" y="337.5">e36</text></g>
<g id="re37"><ellipse class="er" cx="947" cy="352" rx="20" ry="6.5"/><text class="et" x="947" y="354.5">e37</text></g>
<g id="e38"><ellipse class="er" cx="947" cy="384" rx="20" ry="6.5"/><text class="et" x="947" y="386.5">e38</text></g>
<g id="e39"><ellipse class="er" cx="947" cy="398" rx="20" ry="6.5"/><text class="et" x="947" y="400.5">e39</text></g>
<g id="e40"><ellipse class="er" cx="947" cy="412" rx="20" ry="6.5"/><text class="et" x="947" y="414.5">e40</text></g>
<g id="e41"><ellipse class="er" cx="947" cy="427" rx="20" ry="6.5"/><text class="et" x="947" y="429.5">e41</text></g>
<g id="e42"><ellipse class="er" cx="947" cy="443" rx="20" ry="6.5"/><text class="et" x="947" y="445.5">e42</text></g>
<g id="e43"><ellipse class="er" cx="947" cy="470" rx="20" ry="6.5"/><text class="et" x="947" y="472.5">e43</text></g>
<g id="e44"><ellipse class="er" cx="947" cy="486" rx="20" ry="6.5"/><text class="et" x="947" y="488.5">e44</text></g>
<g id="e45"><ellipse class="er" cx="947" cy="502" rx="20" ry="6.5"/><text class="et" x="947" y="504.5">e45</text></g>
<g id="e46"><ellipse class="er" cx="947" cy="518" rx="20" ry="6.5"/><text class="et" x="947" y="520.5">e46</text></g>
<g id="e47"><ellipse class="er" cx="947" cy="536" rx="20" ry="6.5"/><text class="et" x="947" y="538.5">e47</text></g>
<g id="e68"><ellipse class="er" cx="947" cy="633" rx="20" ry="6.5"/><text class="et" x="947" y="635.5">e68</text></g>
<g id="e69"><ellipse class="er" cx="947" cy="649" rx="20" ry="6.5"/><text class="et" x="947" y="651.5">e69</text></g>
<g id="e70"><ellipse class="er" cx="947" cy="667" rx="20" ry="6.5"/><text class="et" x="947" y="669.5">e70</text></g>
<g id="e71"><ellipse class="er" cx="947" cy="687" rx="20" ry="6.5"/><text class="et" x="947" y="689.5">e71</text></g>
<g id="e72"><ellipse class="er" cx="947" cy="703" rx="20" ry="6.5"/><text class="et" x="947" y="705.5">e72</text></g>
<g id="e73"><ellipse class="er" cx="947" cy="720" rx="20" ry="6.5"/><text class="et" x="947" y="722.5">e73</text></g>
<g id="e74"><ellipse class="er" cx="947" cy="737" rx="20" ry="6.5"/><text class="et" x="947" y="739.5">e74</text></g>
<g id="e75"><ellipse class="er" cx="947" cy="755" rx="20" ry="6.5"/><text class="et" x="947" y="757.5">e75</text></g>
<g id="e76"><ellipse class="er" cx="947" cy="770" rx="20" ry="6.5"/><text class="et" x="947" y="772.5">e76</text></g>
<g id="e77"><ellipse class="er" cx="947" cy="787" rx="20" ry="6.5"/><text class="et" x="947" y="789.5">e77</text></g>
<g id="e78"><ellipse class="er" cx="947" cy="802" rx="20" ry="6.5"/><text class="et" x="947" y="804.5">e78</text></g>
<g id="e79"><ellipse class="er" cx="947" cy="818" rx="20" ry="6.5"/><text class="et" x="947" y="820.5">e79</text></g>
<g id="e80"><ellipse class="er" cx="947" cy="835" rx="20" ry="6.5"/><text class="et" x="947" y="837.5">e80</text></g>
<g id="e81"><ellipse class="er" cx="947" cy="851" rx="20" ry="6.5"/><text class="et" x="947" y="853.5">e81</text></g>

<text class="cap" x="150" y="862" textLength="510" lengthAdjust="spacingAndGlyphs">Chi_square=4722.416;DF=3127; P-VALUE=.000; GFI=.727;CFI=.869;RMSEA=.042</text>
</svg>
